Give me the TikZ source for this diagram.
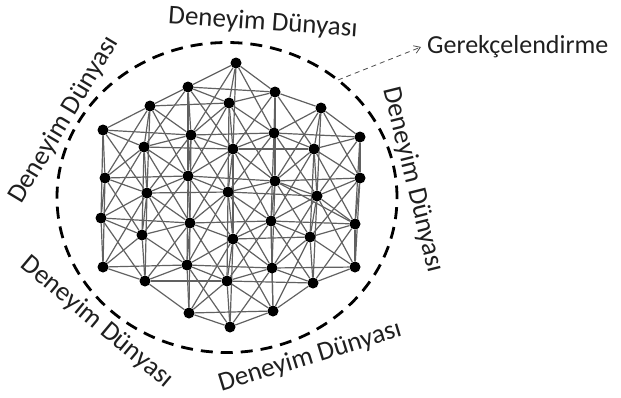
\documentclass[tikz,border=0pt]{standalone}
\usepackage{fontspec}
\setmainfont{Carlito}
\usetikzlibrary{arrows.meta}
\pgfdeclarelayer{bg}
\pgfsetlayers{bg,main}
\begin{document}
\begin{tikzpicture}[x=1pt,y=-1pt,
  dot/.style={circle,fill=black,inner sep=0pt,minimum size=11pt},
  link/.style={draw=black!62,line width=1.2pt},
  world/.style={font=\fontsize{27}{30}\selectfont,text=black!88,inner sep=0pt},
  ring/.style={draw=black,line width=2.8pt,dash pattern=on 12pt off 8pt},
  pointer/.style={draw=black!70,line width=0.8pt,dash pattern=on 5pt off 4pt,-{Straight Barb[length=6pt,width=8pt]}}]
\useasboundingbox (0,0) rectangle (621,397);
\def\xs{{0,236,188,275,150,229,321,103,191,274,360,144,233,314,105,188,275,360,147,228,317,101,190,271,355,142,233,310,103,187,272,355,145,227,313,189,273,230}}
\def\ys{{0,63,87,92,106,103,108,130,135,133,137,147,149,149,178,176,181,178,193,192,196,218,223,221,224,235,239,237,267,265,268,267,281,281,283,313,311,327}}
\foreach \i/\x/\y in {1/236/63,2/188/87,3/275/92,4/150/106,5/229/103,6/321/108,7/103/130,8/191/135,9/274/133,10/360/137,11/144/147,12/233/149,13/314/149,14/105/178,15/188/176,16/275/181,17/360/178,18/147/193,19/228/192,20/317/196,21/101/218,22/190/223,23/271/221,24/355/224,25/142/235,26/233/239,27/310/237,28/103/267,29/187/265,30/272/268,31/355/267,32/145/281,33/227/281,34/313/283,35/189/313,36/273/311,37/230/327}
  \node[dot] (n\i) at (\x,\y) {};
\begin{pgfonlayer}{bg}
\foreach \i [evaluate=\i as \k using int(\i+1)] in {1,...,36}{
  \foreach \j in {\k,...,37}{
    \pgfmathsetmacro\dd{veclen(\xs[\i]-\xs[\j],\ys[\i]-\ys[\j])}
    \ifdim\dd pt<91pt \draw[link] (n\i) -- (n\j);\fi
  }}
\end{pgfonlayer}
\draw[ring] (227,197.5) ellipse [x radius=170pt, y radius=155pt];
\node[world,rotate=-4] (w1) at (263,23) {Deneyim Dünyası};
\node[world,rotate=59] (w2) at (64,120) {Deneyim Dünyası};
\node[world,rotate=-40] (w3) at (97,322) {Deneyim Dünyası};
\node[world,rotate=17] (w4) at (310,357) {Deneyim Dünyası};
\node[world,rotate=-76] (w5) at (413,180) {Deneyim Dünyası};
\node[font=\fontsize{26}{30}\selectfont,text=black!88,anchor=west,inner sep=6pt] (gl) at (421,47) {Gerekçelendirme};
\coordinate (as) at (338,80);
\draw[pointer] (as) -- (gl.west);
\end{tikzpicture}
\end{document}
